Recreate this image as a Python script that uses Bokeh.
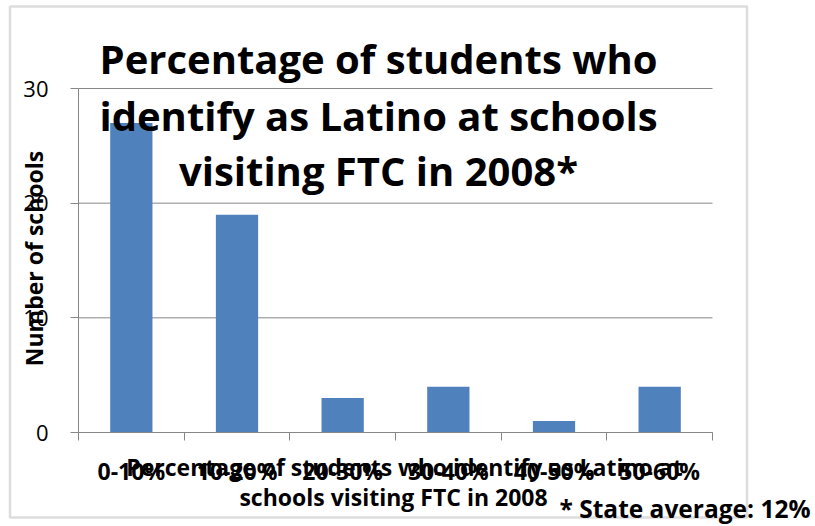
import math
from bokeh.plotting import figure
from bokeh.models import FixedTicker, Label, BoxAnnotation, Range1d
from bokeh.embed import file_html
from bokeh.resources import INLINE

# ---- data ----
categories = ["0-10%", "10-20%", "20-30%", "30-40%", "40-50%", "50-60%"]
schools = [27, 19, 3, 4, 1, 4]
y_ticks = [0, 10, 20, 30]
title_lines = ["Percentage of students who",
               "identify as Latino at schools",
               "visiting FTC in 2008*"]
x_title_lines = ["Percentage of students who identify as Latino at",
                 "schools visiting FTC in 2008"]
y_title = "Number of schools"
note = "* State average: 12%"

FONT = "Open Sans"
GRAY = "#878787"
BAR = "#4F81BD"

# ---- layout (pixels on the 815x526 canvas) ----
W, H = 815, 526
L, R, T, B = 78, 712, 88, 432          # plot area
n = len(categories)
ymax = y_ticks[-1]
px_x = (R - L) / n
px_y = (B - T) / ymax

centers = [i + 0.5 for i in range(n)]
bounds = [i for i in range(n + 1)]

p = figure(width=W, height=H, output_backend="svg", toolbar_location=None,
           x_range=Range1d(-L / px_x, n + (W - R) / px_x),
           y_range=Range1d(-(H - B) / px_y, ymax + T / px_y),
           min_border=0, min_border_left=0, min_border_right=0,
           min_border_top=0, min_border_bottom=0)
p.outline_line_color = None
p.background_fill_color = "white"
p.border_fill_color = "white"
p.xgrid.visible = False
p.ygrid.visible = False

def sy(y):
    return H - y

# outer chart border
p.add_layout(BoxAnnotation(left=9.5, right=746.5, bottom=sy(517), top=sy(6),
                           left_units="screen", right_units="screen",
                           bottom_units="screen", top_units="screen",
                           fill_color=None, line_color="#8e8e8e", line_width=2.5,
                           level="underlay"))

# horizontal gridlines across the plot area
p.segment(x0=[0] * len(y_ticks), x1=[n] * len(y_ticks), y0=y_ticks, y1=y_ticks,
          line_color=GRAY, line_width=1)

p.vbar(x=centers, top=schools, width=0.4, color=BAR, line_color=None)

# x axis
xa = p.xaxis[0]
xa.fixed_location = 0
xa.bounds = (0, n)
xa.ticker = FixedTicker(ticks=centers, minor_ticks=bounds)
xa.major_label_overrides = {c: lab for c, lab in zip(centers, categories)}
xa.major_tick_out = 0
xa.major_tick_in = 0
xa.minor_tick_out = 8
xa.minor_tick_in = 0
xa.minor_tick_line_color = GRAY
xa.axis_line_color = GRAY
xa.major_label_text_font = FONT
xa.major_label_text_font_style = "bold"
xa.major_label_text_font_size = "23px"
xa.major_label_text_color = "black"
xa.major_label_standoff = 14

# y axis
ya = p.yaxis[0]
ya.fixed_location = 0
ya.bounds = (0, ymax)
ya.ticker = FixedTicker(ticks=y_ticks, minor_ticks=[])
ya.major_tick_out = 8
ya.major_tick_in = 0
ya.major_tick_line_color = GRAY
ya.axis_line_color = GRAY
ya.major_label_text_font = FONT
ya.major_label_text_font_size = "22px"
ya.major_label_text_color = "black"
ya.major_label_standoff = 22

# main title
for txt, yb in zip(title_lines, [58, 115, 170]):
    p.add_layout(Label(x=378, y=sy(yb), x_units="screen", y_units="screen", text=txt,
                       text_font=FONT, text_font_style="bold",
                       text_font_size="40px", text_color="black",
                       text_align="center", text_baseline="alphabetic"))

# x axis title
for txt, xc, yb in zip(x_title_lines, [404, 393], [466, 496]):
    p.add_layout(Label(x=xc, y=sy(yb), x_units="screen", y_units="screen", text=txt,
                       text_font=FONT, text_font_style="bold",
                       text_font_size="23px", text_color="black",
                       text_align="center", text_baseline="alphabetic"))

# y axis title
p.add_layout(Label(x=33, y=sy(258), x_units="screen", y_units="screen", text=y_title,
                   angle=math.pi / 2, text_font=FONT, text_font_style="bold",
                   text_font_size="23px", text_color="black",
                   text_align="center", text_baseline="middle"))

# note
p.add_layout(Label(x=559, y=sy(508), x_units="screen", y_units="screen", text=note,
                   text_font=FONT, text_font_style="bold",
                   text_font_size="24.5px", text_color="black",
                   text_align="left", text_baseline="alphabetic"))

open("out.html", "w").write(file_html(p, INLINE))
